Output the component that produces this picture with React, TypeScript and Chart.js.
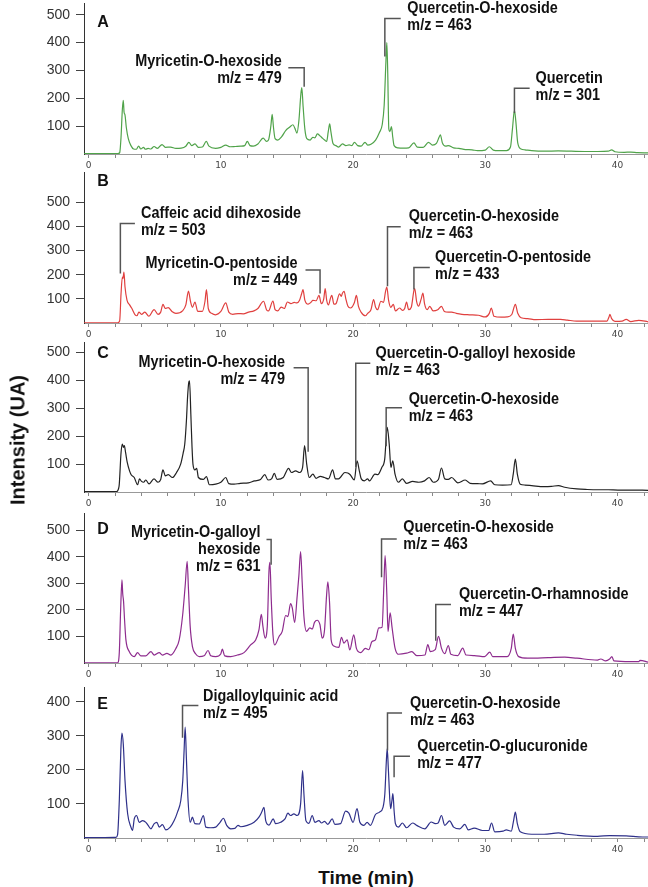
import React, { useEffect, useRef } from 'react';
import { Chart, registerables } from 'chart.js';

Chart.register(...registerables);

// ---------- axis values ----------
const X_MIN = -0.35;
const X_MAX = 42.3;
const X_TICK_STEP = 2;
const X_LABEL_EVERY = 10;
const Y_TICK_STEP = 100;

// ---------- chromatogram traces: [time (min), intensity (UA)] ----------
const traceA: [number, number][] = [
  [-0.35, 1], [2.2, 1], [2.35, 5], [2.45, 60], [2.55, 160], [2.62, 193], [2.68, 150], [2.75, 140], [2.85, 95], [3.0, 55],
  [3.2, 30], [3.4, 18], [3.6, 17], [3.78, 28], [3.95, 18], [4.15, 24], [4.3, 17], [4.5, 20], [4.7, 18], [4.95, 27],
  [5.2, 20], [5.55, 34], [5.8, 24], [6.2, 25], [6.6, 20], [7.0, 21], [7.35, 28], [7.58, 42], [7.8, 30], [8.04, 36],
  [8.3, 24], [8.6, 25], [8.9, 45], [9.1, 28], [9.6, 20], [10.0, 24], [10.37, 32], [10.7, 26], [11.1, 27], [11.5, 28],
  [11.8, 30], [12.0, 45], [12.2, 30], [12.45, 28], [12.8, 36], [13.2, 57], [13.45, 45], [13.6, 50], [13.78, 100], [13.88, 142],
  [13.98, 95], [14.1, 55], [14.3, 50], [14.6, 62], [14.9, 84], [15.2, 96], [15.45, 105], [15.6, 92], [15.75, 75], [15.9, 120],
  [16.05, 215], [16.12, 238], [16.22, 170], [16.35, 90], [16.5, 55], [16.75, 50], [16.95, 60], [17.1, 58], [17.3, 72], [17.5, 65],
  [17.7, 56], [17.85, 50], [18.0, 45], [18.12, 80], [18.23, 108], [18.32, 80], [18.48, 38], [18.7, 30], [18.9, 25], [19.2, 36],
  [19.45, 30], [19.7, 33], [19.9, 30], [20.1, 42], [20.35, 30], [20.6, 28], [20.9, 42], [21.1, 32], [21.35, 35], [21.7, 50],
  [22.0, 78], [22.2, 105], [22.35, 175], [22.48, 330], [22.55, 400], [22.62, 290], [22.7, 90], [22.78, 80], [22.9, 98], [23.0, 60],
  [23.1, 30], [23.4, 22], [23.8, 21], [24.2, 22], [24.6, 40], [24.85, 25], [25.3, 24], [25.7, 42], [26.0, 32], [26.3, 38],
  [26.5, 60], [26.6, 69], [26.75, 40], [27.0, 28], [27.2, 30], [27.6, 22], [28.0, 20], [28.5, 16], [29.0, 15], [29.4, 12],
  [30.0, 14], [30.3, 26], [30.6, 14], [31.0, 12], [31.6, 12], [31.9, 25], [32.05, 90], [32.2, 157], [32.3, 120], [32.45, 40],
  [32.7, 18], [33.0, 15], [33.5, 12], [34.5, 10], [35.5, 11], [36.5, 10], [37.5, 9], [38.5, 9], [39.3, 10], [39.55, 15],
  [39.8, 8], [40.5, 6], [41.0, 7], [41.5, 5], [42.3, 4],
];

const traceB: [number, number][] = [
  [-0.35, 1], [2.2, 1], [2.35, 10], [2.45, 120], [2.55, 190], [2.6, 185], [2.67, 211], [2.75, 150], [2.9, 95], [3.1, 75],
  [3.25, 62], [3.5, 35], [3.65, 30], [3.8, 45], [4.0, 36], [4.25, 45], [4.55, 28], [4.95, 55], [5.25, 36], [5.45, 45],
  [5.62, 77], [5.8, 60], [6.02, 64], [6.3, 48], [6.6, 40], [7.1, 50], [7.35, 75], [7.55, 132], [7.7, 90], [7.85, 65],
  [8.04, 87], [8.25, 48], [8.6, 48], [8.8, 90], [8.91, 138], [9.05, 60], [9.3, 40], [9.6, 34], [10.0, 48], [10.37, 83],
  [10.6, 45], [10.9, 36], [11.3, 39], [11.7, 38], [12.1, 45], [12.5, 50], [12.8, 60], [13.23, 90], [13.45, 55], [13.6, 50],
  [13.94, 91], [14.1, 55], [14.3, 50], [14.56, 66], [14.8, 60], [15.03, 87], [15.3, 80], [15.55, 85], [15.75, 83], [15.95, 94],
  [16.1, 120], [16.21, 138], [16.35, 95], [16.6, 78], [16.8, 85], [16.96, 94], [17.2, 92], [17.42, 114], [17.6, 80], [17.78, 100],
  [17.89, 142], [18.0, 95], [18.14, 75], [18.3, 105], [18.39, 114], [18.55, 78], [18.7, 80], [18.98, 121], [19.1, 110], [19.2, 124],
  [19.32, 131], [19.45, 100], [19.6, 70], [19.8, 62], [20.1, 85], [20.25, 114], [20.4, 70], [20.6, 45], [20.93, 30], [21.1, 40],
  [21.35, 55], [21.55, 97], [21.7, 65], [21.85, 55], [22.1, 90], [22.3, 85], [22.45, 130], [22.55, 149], [22.68, 95], [22.85, 65],
  [23.04, 77], [23.2, 50], [23.51, 62], [23.73, 52], [23.9, 60], [24.04, 87], [24.2, 55], [24.4, 65], [24.6, 135], [24.66, 142],
  [24.8, 90], [24.95, 70], [25.15, 100], [25.28, 124], [25.4, 80], [25.6, 55], [25.8, 69], [26.05, 50], [26.4, 55], [26.68, 69],
  [26.9, 48], [27.2, 45], [27.45, 45], [27.8, 40], [28.23, 36], [28.8, 34], [29.47, 32], [30.0, 25], [30.3, 40], [30.45, 62],
  [30.65, 28], [31.2, 24], [31.65, 25], [32.0, 35], [32.27, 77], [32.45, 40], [32.7, 22], [33.2, 18], [33.82, 14], [34.75, 15],
  [35.68, 15], [36.2, 12], [36.9, 8], [38.2, 8], [39.2, 8], [39.35, 25], [39.42, 36], [39.55, 18], [39.8, 7], [40.34, 8],
  [40.65, 15], [41.0, 6], [41.6, 11], [42.3, 5],
];

const traceC: [number, number][] = [
  [-0.35, 1], [2.1, 1], [2.3, 20], [2.45, 140], [2.55, 172], [2.62, 160], [2.7, 166], [2.8, 140], [2.92, 106], [3.1, 75],
  [3.23, 61], [3.45, 52], [3.7, 26], [3.85, 47], [4.0, 38], [4.16, 35], [4.32, 43], [4.57, 29], [4.94, 47], [5.25, 35],
  [5.45, 45], [5.62, 79], [5.8, 58], [6.02, 62], [6.34, 52], [6.65, 70], [6.96, 100], [7.15, 140], [7.27, 172], [7.4, 260],
  [7.48, 339], [7.58, 395], [7.63, 399], [7.73, 279], [7.82, 160], [7.89, 100], [8.04, 79], [8.17, 85], [8.3, 52], [8.66, 45],
  [8.91, 55], [9.13, 26], [9.6, 28], [10.0, 35], [10.37, 52], [10.6, 30], [11.0, 28], [11.46, 31], [12.08, 33], [12.55, 40],
  [13.0, 45], [13.32, 62], [13.57, 43], [13.85, 48], [14.04, 67], [14.25, 45], [14.72, 52], [15.12, 85], [15.34, 70], [15.65, 76],
  [15.96, 70], [16.18, 88], [16.33, 166], [16.49, 100], [16.68, 52], [16.96, 64], [17.2, 49], [17.52, 56], [17.83, 52], [18.14, 47],
  [18.45, 79], [18.66, 47], [18.9, 47], [19.38, 70], [19.6, 68], [19.78, 62], [20.09, 43], [20.3, 112], [20.47, 76], [20.62, 47],
  [20.85, 40], [21.09, 47], [21.24, 40], [21.65, 64], [21.86, 62], [22.17, 88], [22.39, 118], [22.58, 232], [22.73, 172], [22.86, 88],
  [23.0, 112], [23.17, 64], [23.42, 35], [23.73, 47], [24.04, 31], [24.5, 38], [24.97, 35], [25.4, 40], [25.75, 52], [26.06, 35],
  [26.45, 45], [26.68, 86], [26.93, 47], [27.2, 45], [27.45, 52], [27.92, 33], [28.48, 43], [28.85, 31], [29.4, 30], [29.78, 29],
  [30.4, 40], [30.71, 26], [31.3, 25], [31.95, 26], [32.11, 64], [32.27, 118], [32.42, 64], [32.64, 28], [33.0, 25], [33.5, 23],
  [34.44, 19], [35.0, 20], [35.53, 23], [36.0, 17], [36.93, 11], [37.7, 9], [38.48, 8], [39.3, 8], [40.03, 7], [41.0, 7],
  [42.3, 6],
];

const traceD: [number, number][] = [
  [-0.35, 1], [2.19, 1], [2.32, 40], [2.42, 200], [2.52, 313], [2.58, 260], [2.64, 233], [2.72, 160], [2.82, 87], [3.07, 43],
  [3.45, 24], [3.7, 39], [3.95, 27], [4.33, 27], [4.71, 43], [4.96, 30], [5.34, 39], [5.58, 30], [5.92, 36], [6.22, 30],
  [6.6, 55], [6.85, 87], [7.1, 176], [7.3, 290], [7.45, 383], [7.55, 278], [7.68, 138], [7.85, 62], [8.1, 34], [8.36, 24],
  [8.73, 27], [9.03, 47], [9.24, 27], [9.61, 24], [9.99, 34], [10.11, 52], [10.29, 27], [10.75, 24], [11.25, 30], [11.75, 39],
  [12.25, 68], [12.63, 87], [12.88, 125], [13.06, 183], [13.18, 138], [13.34, 94], [13.51, 138], [13.64, 348], [13.71, 379], [13.81, 240],
  [13.94, 106], [14.07, 68], [14.4, 100], [14.64, 119], [14.9, 179], [15.07, 175], [15.27, 224], [15.4, 208], [15.58, 153], [15.77, 252],
  [15.9, 329], [16.03, 420], [16.15, 303], [16.28, 176], [16.48, 119], [16.73, 132], [16.91, 128], [17.08, 153], [17.28, 161], [17.49, 145],
  [17.66, 94], [17.84, 125], [17.99, 252], [18.09, 306], [18.22, 227], [18.34, 87], [18.54, 64], [18.92, 59], [19.12, 97], [19.3, 75],
  [19.55, 87], [19.75, 49], [20.05, 106], [20.25, 55], [20.56, 39], [20.93, 55], [21.18, 50], [21.43, 81], [21.69, 87], [21.94, 132],
  [22.19, 135], [22.33, 297], [22.42, 405], [22.55, 259], [22.64, 119], [22.8, 189], [22.95, 132], [23.17, 56], [23.42, 33], [24.04, 37],
  [24.44, 43], [24.81, 28], [25.43, 30], [25.65, 69], [25.84, 43], [26.21, 50], [26.46, 100], [26.68, 56], [26.93, 35], [27.2, 66],
  [27.39, 33], [27.92, 28], [28.29, 56], [28.54, 30], [29.16, 28], [29.94, 24], [30.34, 41], [30.56, 24], [31.65, 24], [31.96, 55],
  [32.11, 109], [32.27, 55], [32.52, 24], [33.2, 18], [34.75, 20], [36.0, 22], [36.93, 18], [38.48, 11], [38.73, 15], [39.1, 8],
  [39.4, 15], [39.57, 24], [39.72, 8], [40.96, 5], [41.58, 5], [41.7, 10], [42.3, 3],
];

const traceE: [number, number][] = [
  [-0.35, 1], [2.07, 2], [2.19, 10], [2.32, 110], [2.44, 262], [2.52, 308], [2.62, 276], [2.75, 169], [2.95, 71], [3.2, 32],
  [3.32, 22], [3.45, 56], [3.62, 66], [3.83, 46], [4.08, 51], [4.33, 46], [4.5, 37], [4.71, 27], [4.96, 42], [5.16, 46],
  [5.34, 32], [5.58, 39], [5.84, 24], [6.17, 32], [6.47, 51], [6.72, 76], [6.97, 110], [7.12, 169], [7.22, 257], [7.3, 325],
  [7.4, 227], [7.52, 110], [7.68, 46], [7.85, 61], [8.03, 42], [8.36, 41], [8.68, 66], [8.86, 32], [9.24, 30], [9.61, 32],
  [9.94, 46], [10.19, 58], [10.44, 37], [10.75, 27], [11.05, 28], [11.3, 37], [11.5, 33], [12.0, 37], [12.51, 46], [12.88, 61],
  [13.09, 76], [13.26, 90], [13.39, 51], [13.64, 38], [13.96, 56], [14.14, 42], [14.52, 46], [14.85, 56], [15.07, 73], [15.27, 66],
  [15.52, 71], [15.77, 66], [16.03, 100], [16.18, 198], [16.28, 130], [16.43, 51], [16.66, 43], [16.91, 66], [17.11, 46], [17.41, 51],
  [17.62, 44], [17.84, 49], [18.09, 40], [18.42, 56], [18.62, 40], [19.05, 42], [19.43, 79], [19.68, 73], [20.0, 46], [20.3, 86],
  [20.51, 46], [20.81, 37], [21.06, 46], [21.31, 37], [21.69, 69], [22.0, 76], [22.26, 90], [22.4, 130], [22.52, 230], [22.58, 262],
  [22.66, 207], [22.78, 110], [22.84, 86], [22.92, 105], [23.01, 130], [23.1, 80], [23.2, 42], [23.42, 32], [23.73, 44], [24.04, 30],
  [24.5, 44], [24.81, 37], [25.43, 27], [25.9, 47], [26.21, 42], [26.43, 44], [26.68, 66], [26.93, 37], [27.3, 50], [27.6, 32],
  [28.07, 27], [28.45, 40], [28.7, 24], [29.16, 29], [29.78, 22], [30.25, 22], [30.47, 44], [30.71, 18], [31.34, 20], [31.58, 24],
  [31.96, 20], [32.14, 52], [32.27, 76], [32.42, 42], [32.64, 18], [33.5, 11], [34.44, 11], [35.53, 15], [36.15, 11], [36.93, 8],
  [38.48, 5], [39.4, 7], [40.65, 6], [41.9, 3], [42.3, 3],
];

// ---------- per panel tick labels and limits ----------
const panelLetters = ['A', 'B', 'C', 'D', 'E'];
const yMaxes = [542, 625, 538, 565, 443];
const yTicksA = [100, 200, 300, 400, 500];
const yTicksB = [100, 200, 300, 400, 500];
const yTicksC = [100, 200, 300, 400, 500];
const yTicksD = [100, 200, 300, 400, 500];
const yTicksE = [100, 200, 300, 400];
const colors = ['#50a34a', '#e0403f', '#222222', '#8e2c8e', '#2f318a'];

// ---------- peak annotations ----------
type Ann = {
  text: string[];
  peakX: number; lineBottom: number; lineTop: number; elbowX: number;
  textX: number; textY: number; align: 'left' | 'right';
};
const annA: Ann[] = [
  { text: ['Myricetin-O-hexoside', 'm/z = 479'], peakX: 16.3, lineBottom: 241, lineTop: 310, elbowX: 15.1, textX: 14.6, textY: 332, align: 'right' },
  { text: ['Quercetin-O-hexoside', 'm/z = 463'], peakX: 22.4, lineBottom: 350, lineTop: 486, elbowX: 23.6, textX: 24.1, textY: 522, align: 'left' },
  { text: ['Quercetin', 'm/z = 301'], peakX: 32.2, lineBottom: 147, lineTop: 236, elbowX: 33.35, textX: 33.8, textY: 272, align: 'left' },
];
const annB: Ann[] = [
  { text: ['Caffeic acid dihexoside', 'm/z = 503'], peakX: 2.4, lineBottom: 205, lineTop: 412, elbowX: 3.5, textX: 3.96, textY: 454, align: 'left' },
  { text: ['Myricetin-O-pentoside', 'm/z = 449'], peakX: 17.5, lineBottom: 122, lineTop: 219, elbowX: 16.4, textX: 15.8, textY: 246, align: 'right' },
  { text: ['Quercetin-O-hexoside', 'm/z = 463'], peakX: 22.6, lineBottom: 152, lineTop: 398, elbowX: 23.6, textX: 24.2, textY: 440, align: 'left' },
  { text: ['Quercetin-O-pentoside', 'm/z = 433'], peakX: 24.6, lineBottom: 139, lineTop: 230, elbowX: 25.8, textX: 26.2, textY: 270, align: 'left' },
];
const annC: Ann[] = [
  { text: ['Myricetin-O-hexoside', 'm/z = 479'], peakX: 16.6, lineBottom: 144, lineTop: 446, elbowX: 15.5, textX: 14.85, textY: 465, align: 'right' },
  { text: ['Quercetin-O-galloyl hexoside', 'm/z = 463'], peakX: 20.2, lineBottom: 90, lineTop: 462, elbowX: 21.3, textX: 21.7, textY: 495, align: 'left' },
  { text: ['Quercetin-O-hexoside', 'm/z = 463'], peakX: 22.5, lineBottom: 164, lineTop: 302, elbowX: 23.7, textX: 24.2, textY: 333, align: 'left' },
];
const annD: Ann[] = [
  { text: ['Myricetin-O-galloyl', 'hexoside', 'm/z = 631'], peakX: 13.8, lineBottom: 370, lineTop: 465, elbowX: 13.45, textX: 13.0, textY: 490, align: 'right' },
  { text: ['Quercetin-O-hexoside', 'm/z = 463'], peakX: 22.15, lineBottom: 323, lineTop: 467, elbowX: 23.3, textX: 23.8, textY: 509, align: 'left' },
  { text: ['Quercetin-O-rhamnoside', 'm/z = 447'], peakX: 26.25, lineBottom: 84, lineTop: 220, elbowX: 27.4, textX: 28.0, textY: 258, align: 'left' },
];
const annE: Ann[] = [
  { text: ['Digalloylquinic acid', 'm/z = 495'], peakX: 7.1, lineBottom: 294, lineTop: 389, elbowX: 8.3, textX: 8.65, textY: 415, align: 'left' },
  { text: ['Quercetin-O-hexoside', 'm/z = 463'], peakX: 22.6, lineBottom: 257, lineTop: 367, elbowX: 23.7, textX: 24.3, textY: 393, align: 'left' },
  { text: ['Quercetin-O-glucuronide', 'm/z = 477'], peakX: 23.1, lineBottom: 178, lineTop: 240, elbowX: 24.3, textX: 24.85, textY: 269, align: 'left' },
];
const letterPos: [number, number][] = [[0.65, 473], [0.65, 584], [0.65, 498], [0.65, 501], [0.65, 390]];

// ---------- layout (pixels) ----------
const plotTops = [3, 172, 342, 513, 687];
const plotHeights = [151, 151, 150, 150, 151];
const PAD_TOP = 3;
const X_AXIS_H = 24;
const Y_AXIS_W = 84;
const W = 648;

const panels = [
  { trace: traceA, ann: annA, yTicks: yTicksA },
  { trace: traceB, ann: annB, yTicks: yTicksB },
  { trace: traceC, ann: annC, yTicks: yTicksC },
  { trace: traceD, ann: annD, yTicks: yTicksD },
  { trace: traceE, ann: annE, yTicks: yTicksE },
];

const LABEL_FONT = 'bold 16px "Liberation Sans", Arial, sans-serif';
const LABEL_SQUEEZE = 0.9;
const LABEL_LINE = 17;

function Panel({ idx }: { idx: number }) {
  const ref = useRef<HTMLCanvasElement | null>(null);
  useEffect(() => {
    const p = panels[idx];
    const canvas = ref.current!;
    const labelPlugin = {
      id: 'peakLabels' + idx,
      afterDatasetsDraw(chart: any) {
        const { ctx } = chart;
        const x = chart.scales.x;
        const y = chart.scales.y;
        ctx.save();
        ctx.fillStyle = '#111';
        ctx.textBaseline = 'middle';
        ctx.font = 'bold 16px "Liberation Sans", Arial, sans-serif';
        ctx.textAlign = 'left';
        ctx.fillText(panelLetters[idx], x.getPixelForValue(letterPos[idx][0]), y.getPixelForValue(letterPos[idx][1]));
        for (const a of p.ann) {
          const px = x.getPixelForValue(a.peakX);
          const yb = y.getPixelForValue(a.lineBottom);
          const yt = y.getPixelForValue(a.lineTop);
          const ex = x.getPixelForValue(a.elbowX);
          ctx.strokeStyle = '#555';
          ctx.lineWidth = 1.5;
          ctx.beginPath();
          ctx.moveTo(px, yb);
          ctx.lineTo(px, yt);
          ctx.lineTo(ex, yt);
          ctx.stroke();
          const tx = x.getPixelForValue(a.textX);
          const ty = y.getPixelForValue(a.textY);
          ctx.save();
          ctx.translate(tx, ty);
          ctx.scale(LABEL_SQUEEZE, 1);
          ctx.font = LABEL_FONT;
          ctx.fillStyle = '#111';
          ctx.textAlign = a.align;
          a.text.forEach((line, i) => ctx.fillText(line, 0, i * LABEL_LINE));
          ctx.restore();
        }
        ctx.restore();
      },
    };
    const chart = new Chart(canvas, {
      type: 'line',
      data: {
        datasets: [{
          data: p.trace.map(([t, v]) => ({ x: t, y: v })),
          borderColor: colors[idx],
          borderWidth: 1.2,
          pointRadius: 0,
          cubicInterpolationMode: 'monotone',
          fill: false,
        }],
      },
      options: {
        animation: false,
        responsive: false,
        maintainAspectRatio: false,
        events: [],
        layout: { padding: { top: PAD_TOP, left: 0, right: 0, bottom: 0 } },
        plugins: { legend: { display: false }, tooltip: { enabled: false } },
        scales: {
          x: {
            type: 'linear',
            min: X_MIN,
            max: X_MAX,
            ticks: {
              stepSize: X_TICK_STEP,
              includeBounds: false,
              autoSkip: false,
              maxRotation: 0,
              padding: 2,
              color: '#444',
              font: { family: '"DejaVu Sans", sans-serif', size: 9 },
              callback: (v: any) => (Math.round(v) % X_LABEL_EVERY === 0 ? String(Math.round(v)) : ''),
            },
            grid: { drawOnChartArea: false, drawTicks: true, tickLength: 4, tickColor: '#888', lineWidth: 1 },
            border: { color: '#999', width: 1 },
            afterFit: (axis: any) => {
              axis.height = X_AXIS_H;
              axis.paddingLeft = 0;
              axis.paddingRight = 0;
            },
          },
          y: {
            type: 'linear',
            min: 0,
            max: yMaxes[idx],
            ticks: {
              stepSize: Y_TICK_STEP,
              includeBounds: false,
              padding: 6,
              color: '#333',
              font: { family: '"Liberation Sans", Arial, sans-serif', size: 14 },
            },
            afterBuildTicks: (axis: any) => {
              axis.ticks = axis.ticks.filter((t: any) => p.yTicks.includes(t.value));
            },
            grid: { drawOnChartArea: false, drawTicks: true, tickLength: 8, tickColor: '#444', lineWidth: 1 },
            border: { color: '#333', width: 1 },
            afterFit: (axis: any) => {
              axis.width = Y_AXIS_W;
              axis.paddingTop = 0;
              axis.paddingBottom = 0;
            },
          },
        },
      },
      plugins: [labelPlugin],
    } as any);
    return () => chart.destroy();
  }, [idx]);
  const h = PAD_TOP + plotHeights[idx] + X_AXIS_H;
  return (
    <canvas
      ref={ref}
      width={W}
      height={h}
      style={{ position: 'absolute', left: 0, top: plotTops[idx] - PAD_TOP, width: W, height: h }}
    />
  );
}

export default function App() {
  return (
    <div style={{ position: 'absolute', left: 0, top: 0, width: 648, height: 887, background: '#fff', overflow: 'hidden' }}>
      {panels.map((_, i) => <Panel key={i} idx={i} />)}
      <div
        style={{
          position: 'absolute', left: 18, top: 440, transform: 'translate(-50%, -50%) rotate(-90deg)',
          whiteSpace: 'nowrap', font: 'bold 20px "Liberation Sans", Arial, sans-serif', color: '#111',
        }}
      >
        Intensity (UA)
      </div>
      <div
        style={{
          position: 'absolute', left: 366, top: 878, transform: 'translate(-50%, -50%)',
          whiteSpace: 'nowrap', font: 'bold 19px "Liberation Sans", Arial, sans-serif', color: '#111',
        }}
      >
        Time (min)
      </div>
    </div>
  );
}
